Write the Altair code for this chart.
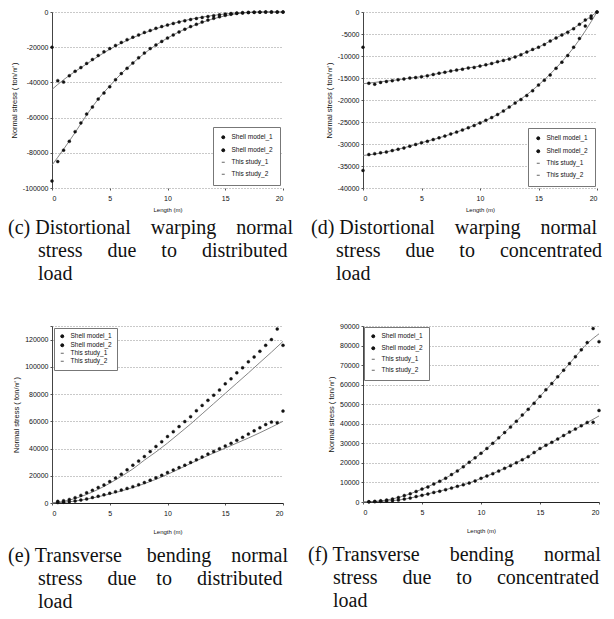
import altair as alt
import pandas as pd

# ---------------- data ----------------
X_PTS = [0, 0.5, 1, 1.5, 2, 2.5, 3, 3.5, 4, 4.5, 5, 5.5, 6, 6.5, 7, 7.5, 8, 8.5, 9, 9.5,
         10, 10.5, 11, 11.5, 12, 12.5, 13, 13.5, 14, 14.5, 15, 15.5, 16, 16.5, 17, 17.5,
         18, 18.5, 19, 19.5, 20]
X_PTS_B = [0.5, 1, 1.5, 2, 2.5, 3, 3.5, 4, 4.5, 5, 5.5, 6, 6.5, 7, 7.5, 8, 8.5, 9, 9.5,
           10, 10.5, 11, 11.5, 12, 12.5, 13, 13.5, 14, 14.5, 15, 15.5, 16, 16.5, 17, 17.5,
           18, 18.5, 19, 19.5, 20]
X_LINE = [0, 1, 2, 3, 4, 5, 6, 7, 8, 9, 10, 11, 12, 13, 14, 15, 16, 17, 18, 19, 20]

# (c) distortional warping, distributed load
c_shell1 = [-20000, -39000, -39800, -36200, -33700, -31600, -29200, -27000, -24700, -22600,
            -20800, -19000, -17300, -15700, -14300, -13000, -11600, -10500, -9300, -8300,
            -7400, -6500, -5700, -5000, -4300, -3700, -3100, -2600, -2100, -1600,
            -1200, -900, -600, -400, -250, -150, -80, -30, 0, 0, 0]
c_shell2 = [-96000, -85000, -78500, -73500, -68000, -63000, -58000, -54000, -49500, -46000,
            -42500, -38500, -35000, -32000, -29000, -26000, -23300, -20800, -18700, -16700,
            -14800, -13000, -11300, -9800, -8300, -7000, -5700, -4600, -3600, -2700,
            -1900, -1300, -800, -500, -300, -150, -50, 0, 0, 0, 0]
c_line1 = [-44000, -38500, -33800, -29500, -25200, -21200, -17700, -14600, -11900, -9500,
           -7400, -5600, -4100, -2900, -1900, -1100, -500, -200, 0, 0, 0]
c_line2 = [-87000, -78000, -68500, -58500, -49500, -42000, -35000, -29000, -23500, -18800,
           -14800, -11300, -8400, -5900, -3800, -2200, -1000, -300, 0, 0, 0]

# (d) distortional warping, concentrated load
d_shell1 = [-8000, -16200, -16400, -16000, -15800, -15600, -15400, -15200, -15000, -14900,
            -14700, -14500, -14200, -13900, -13700, -13400, -13200, -13000, -12700, -12600,
            -12300, -12000, -11700, -11300, -11000, -10700, -10200, -9700, -9100, -8500,
            -8000, -7400, -6600, -5900, -5200, -4600, -3800, -2800, -1800, -900, 0]
d_shell2 = [-36000, -32400, -32200, -32000, -31800, -31500, -31200, -30900, -30500, -30100,
            -29700, -29400, -29000, -28600, -28200, -27700, -27300, -26800, -26300, -25800,
            -25200, -24600, -24000, -23300, -22500, -21600, -20700, -19900, -19000, -17900,
            -16600, -15500, -14300, -12800, -11400, -9900, -8000, -6000, -3200, -1400, 0]
d_line1 = [-16300, -16000, -15700, -15400, -15000, -14700, -14200, -13700, -13200, -12700,
           -12300, -11700, -11000, -10200, -9100, -8000, -6600, -5200, -3700, -1900, 0]
d_line2 = [-32600, -32300, -31800, -31200, -30500, -29700, -29000, -28200, -27300, -26300,
           -25200, -24000, -22500, -20700, -18800, -16600, -14100, -11300, -8100, -4300, 0]

# (e) transverse bending, distributed load
e_shell1 = [1200, 1700, 2600, 3900, 5600, 7500, 9300, 11400, 13300, 15700,
            18300, 21200, 24400, 27800, 30800, 34100, 37800, 41500, 45000, 48800,
            52400, 56100, 59800, 63400, 67800, 71700, 75400, 79200, 83000, 87500,
            91200, 95600, 99300, 103700, 107300, 111400, 115800, 120000, 127800, 115800]
e_shell2 = [300, 600, 1000, 1500, 2200, 3000, 4000, 5000, 6000, 7200,
            8300, 9500, 10700, 12000, 13400, 15000, 16800, 18500, 20400, 22400,
            24200, 26000, 27800, 29800, 31700, 33800, 35900, 37900, 39900, 41900,
            43800, 46000, 48200, 50600, 53000, 55300, 57600, 59400, 59000, 67500]
e_line1 = [0, 1200, 3300, 6300, 10000, 14500, 19600, 25000, 31500, 37500,
           44000, 51000, 58000, 65500, 73000, 80500, 88000, 95500, 103200, 110800, 118700]
e_line2 = [0, 500, 1400, 2800, 4600, 6600, 8800, 11300, 14200, 17400,
           21000, 25000, 29000, 33000, 36700, 40300, 44000, 47700, 51600, 55700, 60000]

# (f) transverse bending, concentrated load
f_shell1 = [100, 300, 600, 1000, 1500, 2300, 3300, 4200, 5400, 6600,
            7700, 9200, 10600, 12200, 14000, 15900, 18000, 20300, 22600, 24900,
            27400, 30000, 32800, 35500, 38300, 41300, 44500, 47400, 50500, 54000,
            57400, 60600, 64000, 67400, 70800, 74300, 77800, 81500, 88700, 82000]
f_shell2 = [100, 200, 350, 500, 700, 1000, 1500, 2000, 2800, 3400,
            4100, 4900, 5500, 6300, 7100, 8000, 8800, 9700, 10800, 12100,
            13300, 14500, 15800, 17200, 18600, 20100, 21600, 23200, 25300, 27400,
            29000, 30500, 32200, 34000, 35800, 37300, 39000, 40700, 40800, 46800]
f_line1 = [0, 300, 1000, 2300, 4200, 6600, 9200, 12200, 15900, 20300,
           24900, 30000, 35500, 41300, 47400, 54000, 60600, 67400, 74300, 81000, 86000]
f_line2 = [0, 200, 500, 1000, 2000, 3400, 4900, 6300, 8000, 9700,
           12100, 14500, 17200, 20100, 23200, 27300, 30500, 34000, 37300, 40600, 44000]

SERIES = ["Shell model_1", "Shell model_2", "This study_1", "This study_2"]
X_TICKS = [0, 5, 10, 15, 20]
Y_TITLE = "Normal stress ( ton/\u33a1)"
SP = "\u00a0"
Z = "\u200b"

CAP_C = ["(c) Distortional" + SP * 4 + "warping" + SP * 4 + "normal",
         Z + SP * 6 + "stress" + SP * 5 + "due" + SP * 5 + "to" + SP * 5 + "distributed",
         Z + SP * 6 + "load"]
CAP_D = ["(d) Distortional" + SP * 4 + "warping" + SP * 4 + "normal",
         Z + SP * 5 + "stress" + SP * 5 + "due" + SP * 5 + "to" + SP * 5 + "concentrated",
         Z + SP * 5 + "load"]
CAP_E = ["(e) Transverse" + SP * 5 + "bending" + SP * 4 + "normal",
         Z + SP * 6 + "stress" + SP * 5 + "due" + SP * 4 + "to" + SP * 5 + "distributed",
         Z + SP * 6 + "load"]
CAP_F = ["(f) Transverse" + SP * 6 + "bending" + SP * 6 + "normal",
         Z + SP * 5 + "stress" + SP * 5 + "due" + SP * 5 + "to" + SP * 5 + "concentrated",
         Z + SP * 5 + "load"]

SANS = "Liberation Sans"
SERIF = "Liberation Serif"


def panel(xp, s1, s2, l1, l2, ydom, yvals, label_max, caption, legend_kw, w, h,
          x_title_pad, cap_offset, cap_dx, bottom_solid):
    pts = pd.DataFrame({
        "x": list(xp) + list(xp),
        "v": s1 + s2,
        "series": [SERIES[0]] * len(s1) + [SERIES[1]] * len(s2),
    })
    lns = pd.DataFrame({
        "x": X_LINE + X_LINE,
        "v": l1 + l2,
        "series": [SERIES[2]] * len(l1) + [SERIES[3]] * len(l2),
    })
    xenc = alt.X("x:Q", scale=alt.Scale(domain=[0, 20], nice=False),
                 axis=alt.Axis(values=X_TICKS, title="Length (m)", grid=False,
                               labelFont=SANS, labelFontSize=7, labelColor="#111",
                               titleFont=SANS, titleFontSize=6, titleFontWeight="normal",
                               titleColor="#111", titlePadding=x_title_pad,
                               tickSize=2, tickColor="#555", labelPadding=4,
                               domain=bottom_solid, domainColor="#222", domainWidth=1))
    yenc = alt.Y("v:Q", scale=alt.Scale(domain=ydom, nice=False),
                 axis=alt.Axis(values=yvals, title=Y_TITLE, grid=True,
                               gridDash=[1, 2], gridColor="#777", gridWidth=0.8,
                               labelExpr="datum.value > %d ? '' : replace(format(datum.value, 'd'), '\u2212', '-')" % label_max,
                               labelFont=SANS, labelFontSize=7, labelColor="#111",
                               titleFont=SANS, titleFontSize=7.5, titleFontWeight="normal",
                               titleColor="#111", titlePadding=4,
                               tickSize=2, tickColor="#555", labelPadding=2,
                               domainColor="#444", domainWidth=1))
    line = alt.Chart(lns).mark_line(color="#777", strokeWidth=0.9, interpolate="monotone").encode(
        x=xenc, y=yenc, detail="series:N")
    leg = alt.Legend(title=None, fillColor="white", strokeColor="#777",
                     labelFont=SANS, labelFontSize=6.5, labelColor="#111",
                     symbolStrokeWidth=1, labelOffset=5, **legend_kw)
    cscale = alt.Scale(domain=SERIES, range=["#111", "#111", "#666", "#666"])
    point = alt.Chart(pts).mark_point(filled=True, opacity=1, strokeWidth=0.4).encode(
        x=xenc, y=yenc,
        color=alt.Color("series:N", scale=cscale, legend=leg),
        stroke=alt.Stroke("series:N", scale=cscale, legend=leg),
        shape=alt.Shape("series:N", scale=alt.Scale(domain=SERIES, range=["circle", "circle", "stroke", "stroke"]), legend=leg),
        size=alt.Size("series:N", scale=alt.Scale(domain=SERIES, range=[9, 9, 50, 50]), legend=leg),
    )
    return alt.layer(line, point).properties(
        width=w, height=h,
        title=alt.TitleParams(text=caption, orient="bottom", anchor="start", frame="group",
                              font=SERIF, fontSize=20, fontWeight="normal", color="#111",
                              lineHeight=23, offset=cap_offset, dx=cap_dx),
    )


pc = panel(X_PTS, c_shell1, c_shell2, c_line1, c_line2, [-100000, 0],
           [-100000, -80000, -60000, -40000, -20000, 0], 1, CAP_C,
           dict(orient="bottom-right", offset=3, padding=7, rowPadding=5), 231, 176,
           5, 6, -44, False)
pd_ = panel(X_PTS, d_shell1, d_shell2, d_line1, d_line2, [-40000, 0],
            [-40000, -35000, -30000, -25000, -20000, -15000, -10000, -5000, 0], 1, CAP_D,
            dict(orient="bottom-right", offset=2, padding=7, rowPadding=5), 234, 176,
            5, 6, -52, False)
pe = panel(X_PTS_B, e_shell1, e_shell2, e_line1, e_line2, [0, 130000],
           [0, 20000, 40000, 60000, 80000, 100000, 120000, 130000], 120000, CAP_E,
           dict(orient="top-left", offset=2, padding=5, rowPadding=1), 231, 177,
           12, 12, -44, True)
pf = panel(X_PTS_B, f_shell1, f_shell2, f_line1, f_line2, [0, 90000],
           [0, 10000, 20000, 30000, 40000, 50000, 60000, 70000, 80000, 90000], 90000, CAP_F,
           dict(orient="top-left", offset=1, padding=6, rowPadding=4), 236, 176,
           12, 12, -55, True)

chart = alt.concat(pc, pd_, pe, pf, columns=2, spacing={"row": 138, "column": 80},
                   bounds="flush").resolve_legend(
    color="independent", stroke="independent", shape="independent", size="independent"
).resolve_scale(
    color="independent", stroke="independent", shape="independent", size="independent"
).properties(padding=0, background="white").configure_view(stroke=None)

chart.save("out.html", embed_options={"renderer": "svg", "actions": False})
